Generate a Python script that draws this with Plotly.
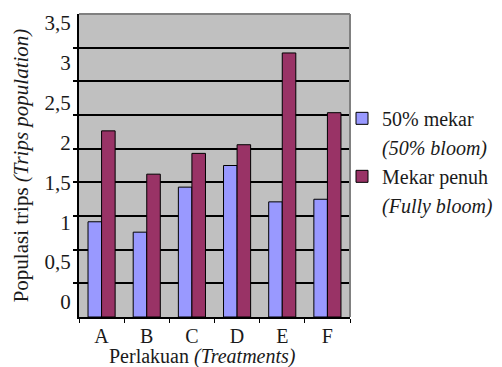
import plotly.graph_objects as go

categories = ["A", "B", "C", "D", "E", "F"]
half_bloom = [1.10, 0.98, 1.50, 1.75, 1.33, 1.36]
full_bloom = [2.15, 1.65, 1.89, 1.99, 3.05, 2.36]
label_vals = [0, 0.5, 1, 1.5, 2, 2.5, 3, 3.5]
label_text = ["0", "0,5", "1", "1,5", "2", "2,5", "3", "3,5"]
grid_vals = [3.5 * k / 9 for k in range(1, 9)]

FONT = "Liberation Serif"
TXT = "#1a1a1a"

fig = go.Figure()
fig.add_trace(go.Bar(x=categories, y=half_bloom, name="50% mekar",
                     marker=dict(color="#9999FF", line=dict(color="#000000", width=1))))
fig.add_trace(go.Scatter(x=[None], y=[None], mode="markers", name="<i>(50% bloom)</i>",
                         marker=dict(color="rgba(0,0,0,0)", size=1), yaxis="y2"))
fig.add_trace(go.Bar(x=categories, y=full_bloom, name="Mekar penuh",
                     marker=dict(color="#993366", line=dict(color="#000000", width=1))))
fig.add_trace(go.Scatter(x=[None], y=[None], mode="markers", name="<i>(Fully bloom)</i>",
                         marker=dict(color="rgba(0,0,0,0)", size=1), yaxis="y2"))

# The page body has an 8 px margin, so the figure is drawn 8 px in from the
# top-left corner of the window; size it to fill the remaining area.
fig.update_layout(
    width=494, height=359,
    margin=dict(l=71, r=152, t=6, b=50, autoexpand=False),
    paper_bgcolor="white", plot_bgcolor="#C0C0C0",
    font=dict(family=FONT, size=21, color=TXT),
    barmode="group", bargap=0.4, bargroupgap=0,
    xaxis=dict(
        showline=True, linecolor="black", linewidth=2,
        ticks="outside", tickson="boundaries", ticklen=4, tickcolor="black", tickwidth=1,
        showgrid=False, automargin=False,
        tickfont=dict(size=20),
    ),
    yaxis=dict(
        range=[0, 3.5], tickvals=grid_vals, showticklabels=False,
        showline=True, linecolor="black", linewidth=2,
        ticks="outside", ticklen=4, tickcolor="black", tickwidth=2,
        showgrid=True, gridcolor="black", gridwidth=2, zeroline=False,
        automargin=False,
    ),
    yaxis2=dict(
        overlaying="y", side="left", range=[-0.188, 3.607],
        tickvals=label_vals, ticktext=label_text,
        ticks="outside", ticklen=3, tickcolor="rgba(0,0,0,0)", showgrid=False,
        showline=False, zeroline=False, automargin=False,
        tickfont=dict(size=21),
        title=dict(text="Populasi trips <i>(Trips population)</i>", font=dict(size=21), standoff=10),
    ),
    legend=dict(x=0.9705, xanchor="left", y=0.72, yanchor="top", bgcolor="rgba(0,0,0,0)",
                font=dict(size=20), traceorder="normal"),
    showlegend=True,
    annotations=[
        dict(text="Perlakuan <i>(Treatments)</i>", xref="paper", yref="paper",
             x=0.457, y=-0.1315, xanchor="center", yanchor="middle", showarrow=False,
             font=dict(size=20)),
    ],
    shapes=[
        dict(type="line", xref="paper", yref="paper", x0=0, x1=1, y0=1, y1=1,
             line=dict(color="#808080", width=2)),
        dict(type="line", xref="paper", yref="paper", x0=1, x1=1, y0=0, y1=1,
             line=dict(color="#808080", width=2)),
    ],
)

fig.write_html("out.html")
